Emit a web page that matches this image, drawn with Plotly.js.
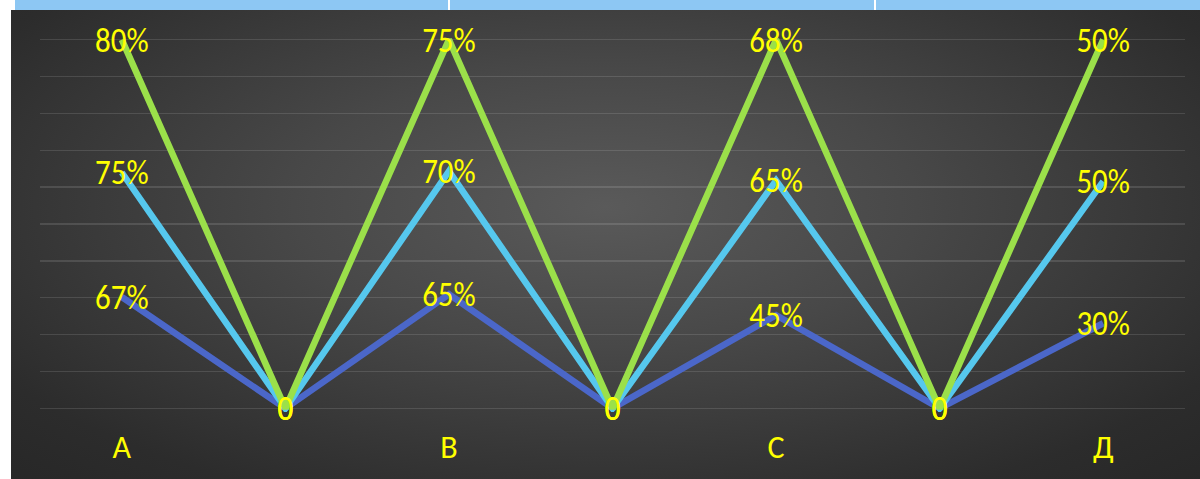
<!DOCTYPE html>
<html>
<head>
<meta charset="utf-8">
<script src="https://cdn.plot.ly/plotly-3.0.1.min.js"></script>
<style>
  html, body { margin: 0; padding: 0; background: #ffffff; width: 1200px; height: 479px; overflow: hidden; }
  #bg { position: absolute; left: 11px; top: 10px; width: 1189px; height: 469px;
        background: radial-gradient(ellipse 75% 85% at 50% 42%, #5a5a5a 0%, #484848 35%, #2c2c2c 80%, #262626 100%); }
  #band { position: absolute; left: 15px; top: 0; width: 1185px; height: 10px; background: #8DC7F3; }
  .div { position: absolute; top: 0; width: 2px; height: 10px; background: #ffffff; }
  #chart { position: absolute; left: 0; top: 0; width: 1200px; height: 479px; }
  #chart .textpoint text { transform-box: fill-box; transform-origin: center; transform: translateY(2.5px) scaleY(1.15); }
</style>
</head>
<body>
<div id="bg"></div>
<div id="band"></div>
<div class="div" style="left:448px"></div>
<div class="div" style="left:874px"></div>
<div id="chart"></div>
<script>
// Data
var categories = ['A', '', 'B', '', 'C', '', 'Д'];
var seriesLow = [67, 0, 65, 0, 45, 0, 30];
var seriesMid = [75, 0, 70, 0, 65, 0, 50];
var seriesHigh = [80, 0, 75, 0, 68, 0, 50];
var labelsLow = ['67%', '0', '65%', '0', '45%', '0', '30%'];
var labelsMid = ['75%', '0', '70%', '0', '65%', '0', '50%'];
var labelsHigh = ['80%', '0', '75%', '0', '68%', '0', '50%'];

var xs = categories.map(function (c, i) { return i; });
var fontFam = 'Carlito, "Liberation Sans Narrow", "DejaVu Sans Condensed", sans-serif';

function mk(vals, labels, color) {
  return {
    x: xs, y: vals, text: labels,
    type: 'scatter', mode: 'lines+text',
    stackgroup: 'one', groupnorm: 'percent', fill: 'none',
    line: { color: color, width: 6.5 },
    textposition: 'middle center',
    textfont: { color: '#FFFF00', size: 31, family: fontFam },
    hoverinfo: 'skip', cliponaxis: false
  };
}

var data = [
  mk(seriesLow, labelsLow, '#4B67C9'),
  mk(seriesMid, labelsMid, '#56C8EE'),
  mk(seriesHigh, labelsHigh, '#9BE04A')
];

var layout = {
  width: 1200, height: 479,
  margin: { l: 40, r: 15, t: 35.6, b: 66.6, pad: 0 },
  paper_bgcolor: 'rgba(0,0,0,0)',
  plot_bgcolor: 'rgba(0,0,0,0)',
  showlegend: false,
  xaxis: {
    range: [-0.5, 6.5], tickmode: 'array', tickvals: xs, ticktext: categories,
    showgrid: false, zeroline: false, showline: false, ticks: '',
    ticklabelstandoff: 13,
    tickfont: { color: '#FFFF00', size: 32, family: fontFam },
    fixedrange: true
  },
  yaxis: {
    range: [-1, 101], tickmode: 'linear', tick0: 0, dtick: 10, showticklabels: false, ticks: '',
    showgrid: true, gridcolor: 'rgba(255,255,255,0.12)', gridwidth: 1.5,
    zeroline: false, showline: false, fixedrange: true
  }
};

Plotly.newPlot('chart', data, layout, { staticPlot: true, displayModeBar: false });
</script>
</body>
</html>
